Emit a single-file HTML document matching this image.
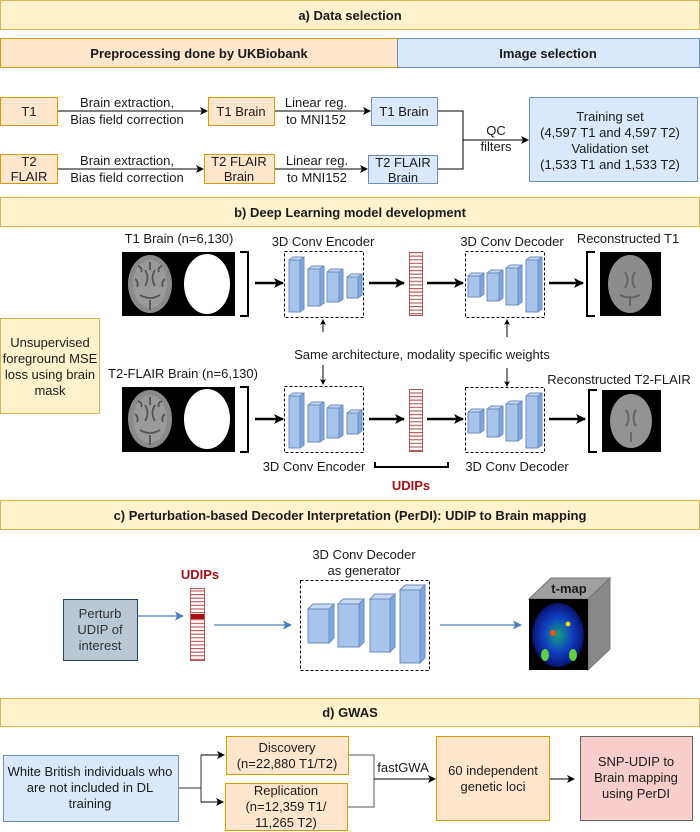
<!DOCTYPE html>
<html><head><meta charset="utf-8"><style>
html,body{margin:0;padding:0;background:#fff}
svg{display:block}
text{font-family:"Liberation Sans",sans-serif;font-size:13px;fill:#1a1a1a}
.b{font-weight:bold}
.c{text-anchor:middle}
</style></head><body>
<svg width="700" height="832" viewBox="0 0 700 832" xmlns="http://www.w3.org/2000/svg">
<defs>
<marker id="ah" markerWidth="8" markerHeight="8" refX="7" refY="4" orient="auto" markerUnits="userSpaceOnUse"><path d="M0,0 L8,4 L0,8 L2,4 z" fill="#000"/></marker>
<marker id="ahb" markerWidth="10" markerHeight="10" refX="9" refY="5" orient="auto" markerUnits="userSpaceOnUse"><path d="M0,0 L10,5 L0,10 L2.5,5 z" fill="#000"/></marker>
<marker id="ahs" markerWidth="6" markerHeight="6" refX="5" refY="3" orient="auto" markerUnits="userSpaceOnUse"><path d="M0,0 L6,3 L0,6 L1.5,3 z" fill="#000"/></marker>
<marker id="ahl" markerWidth="9" markerHeight="9" refX="8" refY="4.5" orient="auto" markerUnits="userSpaceOnUse"><path d="M0,0 L9,4.5 L0,9 L2,4.5 z" fill="#4a7ebb"/></marker>
<pattern id="stripe" width="14" height="3.6" patternUnits="userSpaceOnUse"><rect width="14" height="3.6" fill="#fff"/><rect width="14" height="1.1" fill="#b85450"/></pattern>
<radialGradient id="tm" cx="50%" cy="50%" r="55%"><stop offset="0" stop-color="#10a080"/><stop offset="0.5" stop-color="#1040c0"/><stop offset="0.85" stop-color="#0a1a80"/><stop offset="1" stop-color="#000"/></radialGradient>
<g id="brain">
<ellipse cx="0" cy="0" rx="22" ry="29" fill="#8a8a8a"/>
<ellipse cx="0" cy="0" rx="17" ry="24" fill="#9a9a9a"/>
<path d="M-5,-14 q5,8 0,16 M5,-14 q-5,8 0,16 M-10,11 q10,6 20,0 M0,-22 v8 M0,16 v10 M-15,-5 q4,3 2,8 M15,-5 q-4,3 -2,8 M-12,-18 q5,2 3,6 M12,-18 q-5,2 -3,6" stroke="#555" stroke-width="1.8" fill="none"/>
</g>
</defs>

<!-- a -->
<rect x="0.5" y="0.5" width="699" height="29" fill="#fff2cc" stroke="#d6b656"/>
<text x="350" y="20" class="c b">a) Data selection</text>
<rect x="0.5" y="38.5" width="397" height="29" fill="#ffe6cc" stroke="#d79b00"/>
<rect x="397.5" y="38.5" width="302" height="29" fill="#dae8fc" stroke="#6c8ebf"/>
<text x="199" y="58" class="c b">Preprocessing done by UKBiobank</text>
<text x="548" y="58" class="c b">Image selection</text>

<rect x="0.5" y="97.5" width="57" height="28" fill="#ffe6cc" stroke="#d79b00"/>
<text x="29" y="116" class="c">T1</text>
<rect x="0.5" y="154.5" width="57" height="29" fill="#ffe6cc" stroke="#d79b00"/>
<text x="29" y="166" class="c">T2</text><text x="29" y="181" class="c">FLAIR</text>
<line x1="58" y1="111" x2="207" y2="111" stroke="#000" marker-end="url(#ah)"/>
<line x1="58" y1="169" x2="203" y2="169" stroke="#000" marker-end="url(#ah)"/>
<text x="127" y="107" class="c">Brain extraction,</text><text x="127" y="124" class="c">Bias field correction</text>
<text x="127" y="165" class="c">Brain extraction,</text><text x="127" y="182" class="c">Bias field correction</text>
<rect x="208.5" y="97.5" width="66" height="28" fill="#ffe6cc" stroke="#d79b00"/>
<text x="241" y="116" class="c">T1 Brain</text>
<rect x="204.5" y="154.5" width="70" height="29" fill="#ffe6cc" stroke="#d79b00"/>
<text x="239" y="166" class="c">T2 FLAIR</text><text x="239" y="181" class="c">Brain</text>
<line x1="275" y1="111" x2="370" y2="111" stroke="#000" marker-end="url(#ah)"/>
<line x1="275" y1="169" x2="367" y2="169" stroke="#000" marker-end="url(#ah)"/>
<text x="316" y="107" class="c">Linear reg.</text><text x="316" y="124" class="c">to MNI152</text>
<text x="317" y="165" class="c">Linear reg.</text><text x="317" y="182" class="c">to MNI152</text>
<rect x="371.5" y="97.5" width="66" height="28" fill="#dae8fc" stroke="#6c8ebf"/>
<text x="404" y="116" class="c">T1 Brain</text>
<rect x="368.5" y="155.5" width="69" height="28" fill="#dae8fc" stroke="#6c8ebf"/>
<text x="403" y="167" class="c">T2 FLAIR</text><text x="403" y="182" class="c">Brain</text>
<polyline points="438,111 463,111 463,169 438,169" fill="none" stroke="#000"/>
<line x1="463" y1="140" x2="528" y2="140" stroke="#000" marker-end="url(#ah)"/>
<text x="496" y="135" class="c">QC</text><text x="496" y="151" class="c">filters</text>
<rect x="529.5" y="97.5" width="168" height="84" fill="#dae8fc" stroke="#6c8ebf"/>
<text x="610" y="121" class="c">Training set</text>
<text x="610" y="137" class="c">(4,597 T1 and 4,597 T2)</text>
<text x="610" y="153" class="c">Validation set</text>
<text x="610" y="169" class="c">(1,533 T1 and 1,533 T2)</text>

<!-- b -->
<rect x="0.5" y="197.5" width="699" height="29" fill="#fff2cc" stroke="#d6b656"/>
<text x="350" y="217" class="c b">b) Deep Learning model development</text>

<text x="179" y="243" class="c">T1 Brain (n=6,130)</text>
<text x="323" y="246" class="c">3D Conv Encoder</text>
<text x="512" y="246" class="c">3D Conv Decoder</text>
<text x="628" y="243" class="c">Reconstructed T1</text>

<!-- row1 images -->
<rect x="122" y="252" width="113" height="64" fill="#000"/>
<use href="#brain" x="150" y="284"/>
<ellipse cx="207" cy="284" rx="23" ry="30" fill="#fff"/>
<polyline points="240,252 248,252 248,316 240,316" fill="none" stroke="#000" stroke-width="2"/>
<rect x="600" y="252" width="61" height="64" fill="#000"/>
<ellipse cx="630" cy="284" rx="22" ry="29" fill="#8c8c8c"/>
<path d="M625,272 q5,8 0,16 M635,272 q-5,8 0,16 M630,296 v10 M620,295 q10,5 20,0" stroke="#666" stroke-width="2" fill="none"/>
<polyline points="595,252 587,252 587,316 595,316" fill="none" stroke="#000" stroke-width="2"/>

<!-- row2 images -->
<rect x="122" y="387" width="113" height="65" fill="#000"/>
<use href="#brain" x="150" y="419"/>
<ellipse cx="207" cy="419" rx="23" ry="30" fill="#fff"/>
<polyline points="240,387 248,387 248,452 240,452" fill="none" stroke="#000" stroke-width="2"/>
<rect x="602" y="390" width="59" height="62" fill="#000"/>
<ellipse cx="631" cy="421" rx="21" ry="27" fill="#939393"/>
<path d="M626,410 q5,8 0,16 M636,410 q-5,8 0,16 M631,432 v10" stroke="#666" stroke-width="2" fill="none"/>
<polyline points="597,390 589,390 589,452 597,452" fill="none" stroke="#000" stroke-width="2"/>

<g stroke="#000" stroke-width="2.5" marker-end="url(#ahb)">
<line x1="255" y1="283" x2="283" y2="283"/>
<line x1="369" y1="283" x2="404" y2="283"/>
<line x1="427" y1="283" x2="463" y2="283"/>
<line x1="549" y1="283" x2="583" y2="283"/>
<line x1="255" y1="419" x2="283" y2="419"/>
<line x1="369" y1="419" x2="404" y2="419"/>
<line x1="427" y1="419" x2="463" y2="419"/>
<line x1="549" y1="419" x2="585" y2="419"/>
</g>

<rect x="284.5" y="251.5" width="79" height="66" fill="none" stroke="#000" stroke-dasharray="3,2"/>
<rect x="465.5" y="251.5" width="79" height="66" fill="none" stroke="#000" stroke-dasharray="3,2"/>
<rect x="284.5" y="386.5" width="79" height="66" fill="none" stroke="#000" stroke-dasharray="3,2"/>
<rect x="465.5" y="387.5" width="79" height="65" fill="none" stroke="#000" stroke-dasharray="3,2"/>

<rect x="409.5" y="252.5" width="13" height="63" fill="url(#stripe)" stroke="#b85450"/>
<rect x="409.5" y="389.5" width="13" height="62" fill="url(#stripe)" stroke="#b85450"/>

<g stroke="#6c8ebf" stroke-width="1" stroke-linejoin="round">
<g id="row">
<g><rect x="289" y="260" width="11" height="52" fill="#a9c4eb"/><polygon points="289,260 293,257 304,257 300,260" fill="#c6d8f2"/><polygon points="300,260 304,257 304,309 300,312" fill="#7ea6e0"/></g>
<g><rect x="308" y="269" width="12" height="37" fill="#a9c4eb"/><polygon points="308,269 312,266 324,266 320,269" fill="#c6d8f2"/><polygon points="320,269 324,266 324,303 320,306" fill="#7ea6e0"/></g>
<g><rect x="327" y="272" width="12" height="30" fill="#a9c4eb"/><polygon points="327,272 331,269 343,269 339,272" fill="#c6d8f2"/><polygon points="339,272 343,269 343,299 339,302" fill="#7ea6e0"/></g>
<g><rect x="347" y="277" width="11" height="21" fill="#a9c4eb"/><polygon points="347,277 351,274 362,274 358,277" fill="#c6d8f2"/><polygon points="358,277 362,274 362,295 358,298" fill="#7ea6e0"/></g>
<g><rect x="468" y="276" width="12" height="21" fill="#a9c4eb"/><polygon points="468,276 472,273 484,273 480,276" fill="#c6d8f2"/><polygon points="480,276 484,273 484,294 480,297" fill="#7ea6e0"/></g>
<g><rect x="487" y="273" width="12" height="28" fill="#a9c4eb"/><polygon points="487,273 491,270 503,270 499,273" fill="#c6d8f2"/><polygon points="499,273 503,270 503,298 499,301" fill="#7ea6e0"/></g>
<g><rect x="506" y="268" width="12" height="37" fill="#a9c4eb"/><polygon points="506,268 510,265 522,265 518,268" fill="#c6d8f2"/><polygon points="518,268 522,265 522,302 518,305" fill="#7ea6e0"/></g>
<g><rect x="526" y="260" width="12" height="52" fill="#a9c4eb"/><polygon points="526,260 530,257 542,257 538,260" fill="#c6d8f2"/><polygon points="538,260 542,257 542,309 538,312" fill="#7ea6e0"/></g>
</g>
<use href="#row" y="136"/>
</g>

<g stroke="#000" stroke-width="1" marker-end="url(#ahs)">
<line x1="323" y1="332" x2="323" y2="320"/>
<line x1="507" y1="337" x2="507" y2="320"/>
<line x1="323" y1="365" x2="323" y2="384"/>
<line x1="507" y1="368" x2="507" y2="386"/>
</g>
<text x="422" y="359" class="c">Same architecture, modality specific weights</text>
<text x="183" y="378" class="c">T2-FLAIR Brain (n=6,130)</text>
<text x="619" y="384" class="c">Reconstructed T2-FLAIR</text>

<rect x="0.5" y="318.5" width="99" height="95" fill="#fff2cc" stroke="#d6b656"/>
<text x="50" y="347" class="c">Unsupervised</text>
<text x="50" y="363" class="c">foreground MSE</text>
<text x="50" y="379" class="c">loss using brain</text>
<text x="50" y="395" class="c">mask</text>

<text x="314" y="471" class="c">3D Conv Encoder</text>
<text x="517" y="471" class="c">3D Conv Decoder</text>
<polyline points="375,462 375,467 448,467 448,462" fill="none" stroke="#000" stroke-width="2"/>
<text x="411" y="490" class="c b" style="fill:#a50f15">UDIPs</text>

<!-- c -->
<rect x="0.5" y="500.5" width="699" height="29" fill="#fff2cc" stroke="#d6b656"/>
<text x="350" y="520" class="c b">c) Perturbation-based Decoder Interpretation (PerDI): UDIP to Brain mapping</text>

<text x="364" y="559" class="c">3D Conv Decoder</text>
<text x="364" y="575" class="c">as generator</text>
<text x="200" y="579" class="c b" style="fill:#a50f15">UDIPs</text>
<rect x="300.5" y="580.5" width="129" height="90" fill="none" stroke="#000" stroke-dasharray="3,2"/>
<rect x="190.5" y="588.5" width="14" height="72" fill="url(#stripe)" stroke="#b85450"/>
<rect x="191" y="614" width="13" height="5" fill="#a50f15"/>
<rect x="63.5" y="599.5" width="74" height="61" fill="#bac8d3" stroke="#23445d"/>
<text x="100" y="618" class="c" style="fill:#333">Perturb</text>
<text x="100" y="634" class="c" style="fill:#333">UDIP of</text>
<text x="100" y="650" class="c" style="fill:#333">interest</text>
<g stroke="#4a7ebb" stroke-width="1.2" marker-end="url(#ahl)">
<line x1="138" y1="616" x2="183" y2="616"/>
<line x1="214" y1="625" x2="291" y2="625"/>
<line x1="440" y1="625" x2="521" y2="625"/>
</g>
<g stroke="#6c8ebf" stroke-width="1">
<g><rect x="308" y="609" width="21" height="34" fill="#a9c4eb"/><polygon points="308,609 313,604 334,604 329,609" fill="#c6d8f2"/><polygon points="329,609 334,604 334,638 329,643" fill="#7ea6e0"/></g>
<g><rect x="338" y="604" width="21" height="43" fill="#a9c4eb"/><polygon points="338,604 343,599 364,599 359,604" fill="#c6d8f2"/><polygon points="359,604 364,599 364,642 359,647" fill="#7ea6e0"/></g>
<g><rect x="370" y="599" width="20" height="53" fill="#a9c4eb"/><polygon points="370,599 375,594 395,594 390,599" fill="#c6d8f2"/><polygon points="390,599 395,594 395,647 390,652" fill="#7ea6e0"/></g>
<g><rect x="400" y="590" width="20" height="73" fill="#a9c4eb"/><polygon points="400,590 405,585 425,585 420,590" fill="#c6d8f2"/><polygon points="420,590 425,585 425,658 420,663" fill="#7ea6e0"/></g>
</g>
<!-- t-map cube -->
<polygon points="529,599 551,578 610,578 588,599" fill="#a0a0a0" stroke="#777"/>
<polygon points="588,599 610,578 610,649 588,670" fill="#888" stroke="#777"/>
<rect x="529" y="599" width="59" height="71" fill="#000"/>
<ellipse cx="558" cy="635" rx="26" ry="32" fill="url(#tm)"/>
<circle cx="553" cy="633" r="3" fill="#ff5010"/><circle cx="568" cy="624" r="2.5" fill="#e0e020"/>
<ellipse cx="545" cy="655" rx="4" ry="6" fill="#60d040"/><ellipse cx="573" cy="655" rx="4" ry="6" fill="#60d040"/>
<text x="569" y="593" class="c b" style="font-size:13px">t-map</text>

<!-- d -->
<rect x="0.5" y="698.5" width="699" height="28" fill="#fff2cc" stroke="#d6b656"/>
<text x="350" y="717" class="c b">d) GWAS</text>
<rect x="3.5" y="755.5" width="175" height="66" fill="#dae8fc" stroke="#6c8ebf"/>
<text x="90" y="776" class="c">White British individuals who</text>
<text x="90" y="792" class="c">are not included in DL</text>
<text x="90" y="808" class="c">training</text>
<polyline points="179,788 201,788" fill="none" stroke="#333"/>
<polyline points="201,755 201,802" fill="none" stroke="#333"/>
<line x1="201" y1="755" x2="224" y2="755" stroke="#000" marker-end="url(#ah)"/>
<line x1="201" y1="802" x2="223" y2="802" stroke="#000" marker-end="url(#ah)"/>
<rect x="226.5" y="736.5" width="122" height="38" fill="#ffe6cc" stroke="#d79b00"/>
<text x="287" y="752" class="c">Discovery</text>
<text x="287" y="768" class="c">(n=22,880 T1/T2)</text>
<rect x="225.5" y="783.5" width="122" height="47" fill="#ffe6cc" stroke="#d79b00"/>
<text x="286" y="795" class="c">Replication</text>
<text x="286" y="811" class="c">(n=12,359 T1/</text>
<text x="286" y="827" class="c">11,265 T2)</text>
<polyline points="349,755 374,755 374,807 348,807" fill="none" stroke="#555"/>
<line x1="374" y1="779" x2="435" y2="779" stroke="#000" marker-end="url(#ah)"/>
<text x="403" y="772" class="c">fastGWA</text>
<rect x="436.5" y="736.5" width="113" height="84" fill="#ffe6cc" stroke="#d79b00"/>
<text x="493" y="775" class="c">60 independent</text>
<text x="493" y="791" class="c">genetic loci</text>
<line x1="550" y1="779" x2="574" y2="779" stroke="#000" marker-end="url(#ah)"/>
<rect x="580.5" y="736.5" width="112" height="84" fill="#f8cecc" stroke="#666"/>
<text x="636" y="766" class="c">SNP-UDIP to</text>
<text x="636" y="782" class="c">Brain mapping</text>
<text x="636" y="798" class="c">using PerDI</text>
</svg>
</body></html>
